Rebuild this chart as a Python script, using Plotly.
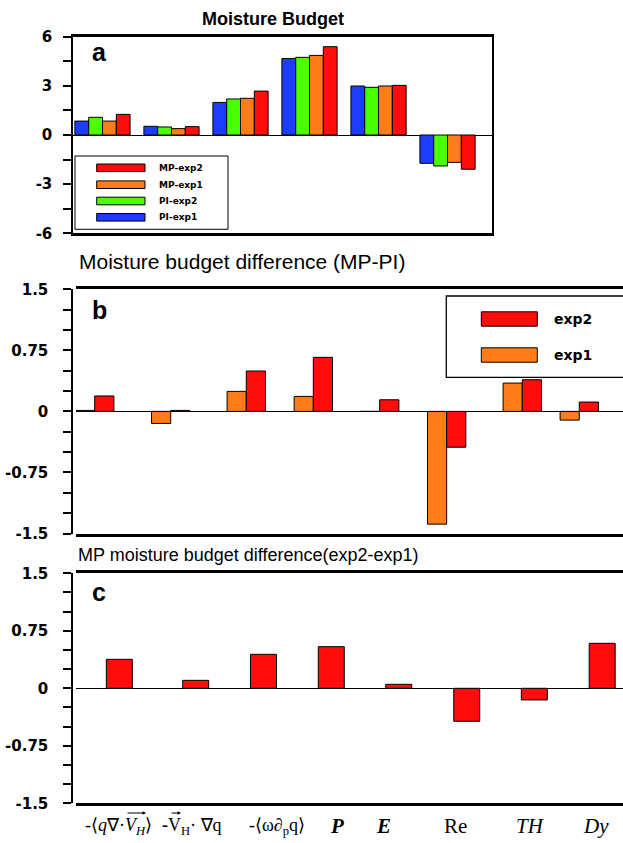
import plotly.graph_objects as go

# ---------------- data ----------------
# panel a: moisture budget terms (6 groups)
groups_a = [0, 1, 2, 3, 4, 5]
pi_exp1 = [0.85, 0.53, 1.99, 4.67, 2.99, -1.73]
pi_exp2 = [1.08, 0.49, 2.20, 4.74, 2.91, -1.89]
mp_exp1 = [0.85, 0.39, 2.24, 4.86, 2.99, -1.67]
mp_exp2 = [1.26, 0.51, 2.68, 5.39, 3.03, -2.09]

# panel b: MP-PI difference
xpos_b = [0.275, 1.393, 2.504, 3.490, 4.466, 5.451, 6.563, 7.401]
diff_exp1 = [0.012, -0.148, 0.246, 0.184, 0.0, -1.385, 0.348, -0.107]
diff_exp2 = [0.190, 0.012, 0.496, 0.664, 0.143, -0.440, 0.389, 0.115]

# panel c: MP exp2-exp1 difference
xpos_c = [0.637, 1.760, 2.757, 3.754, 4.747, 5.746, 6.740, 7.738]
mp_diff = [0.378, 0.104, 0.443, 0.543, 0.052, -0.430, -0.152, 0.587]
label_pos_c = [0.632, 1.706, 2.956, 3.838, 4.515, 5.574, 6.691, 7.647]
labels_c = [
    "-⟨<i>q</i>∇·<i>V</i><sub><i>H</i></sub>⟩",
    "<b>-</b>V<sub>H</sub>· ∇q",
    "-⟨ω∂<sub>p</sub>q⟩",
    "<b><i>P</i></b>",
    "<b><i>E</i></b>",
    "Re",
    "<i>TH</i>",
    "<i>Dy</i>",
]
label_sizes_c = [18, 18, 18, 21, 21, 21, 21, 21]

ticks_a = [-6, -3, 0, 3, 6]
ticktext_a = ["-6", "-3", "0", "3", "6"]
minor_a = [-4.5, -1.5, 1.5, 4.5]
ticks_bc = [-1.5, -0.75, 0, 0.75, 1.5]
ticktext_bc = ["-1.5", "-0.75", "0", "0.75", "1.5"]
minor_bc = [-1.25, -1.0, -0.5, -0.25, 0.25, 0.5, 1.0, 1.25]

BLUE = "rgb(30,60,255)"
GREEN = "rgb(75,255,0)"
ORANGE = "rgb(255,125,25)"
RED = "rgb(255,13,13)"

W, H = 623, 843
def px(x):
    return x / W
def py(y):
    return 1 - y / H

fig = go.Figure()
line = dict(color="black", width=1)

# panel a
for k, (vals, col, name) in enumerate([(pi_exp1, BLUE, "PI-exp1"), (pi_exp2, GREEN, "PI-exp2"),
                                        (mp_exp1, ORANGE, "MP-exp1"), (mp_exp2, RED, "MP-exp2")]):
    fig.add_trace(go.Bar(x=groups_a, y=vals, width=0.2, offset=-0.4 + 0.2 * k,
                         marker=dict(color=col, line=line), name=name,
                         xaxis="x", yaxis="y", showlegend=False))
# panel b
fig.add_trace(go.Bar(x=xpos_b, y=diff_exp1, width=0.282, offset=-0.282,
                     marker=dict(color=ORANGE, line=line), name="exp1",
                     xaxis="x2", yaxis="y2", showlegend=False))
fig.add_trace(go.Bar(x=xpos_b, y=diff_exp2, width=0.282, offset=0,
                     marker=dict(color=RED, line=line), name="exp2",
                     xaxis="x2", yaxis="y2", showlegend=False))
# panel c
fig.add_trace(go.Bar(x=xpos_c, y=mp_diff, width=0.382,
                     marker=dict(color=RED, line=line), name="exp2-exp1",
                     xaxis="x3", yaxis="y3", showlegend=False))

tickfont = dict(family="DejaVu Sans", size=15, color="black", weight="bold")

def yax(domain, tv, tt, mv, rng, mirror, standoff):
    return dict(domain=domain, range=rng, showline=True, linecolor="black", linewidth=2,
                mirror=mirror, ticks="outside", ticklen=8, tickwidth=1.5, tickcolor="black",
                tickmode="array", tickvals=tv, ticktext=tt, tickfont=tickfont,
                ticklabelstandoff=standoff, automargin=False,
                minor=dict(tickmode="array", tickvals=mv, ticks="outside", ticklen=8,
                           tickwidth=1.5, tickcolor="black", showgrid=False),
                showgrid=False, zeroline=True, zerolinecolor="black", zerolinewidth=1,
                fixedrange=True)

def xax(domain, rng, anchor):
    return dict(domain=domain, range=rng, anchor=anchor, showline=True, linecolor="black",
                linewidth=2.5, mirror=True, ticks="", showticklabels=False, automargin=False,
                showgrid=False, zeroline=False, fixedrange=True, tickangle=0)

fig.update_layout(
    width=W, height=H, margin=dict(l=0, r=0, t=0, b=0, autoexpand=False),
    paper_bgcolor="white", plot_bgcolor="white", barmode="overlay",
    xaxis=xax([px(73.3), px(491.7)], [-0.423, 5.64], "y"),
    yaxis=yax([py(233.3), py(36.7)], ticks_a, ticktext_a, minor_a, [-6, 6], True, 8),
    xaxis2=xax([px(76), 1.0], [0, 8.044], "y2"),
    yaxis2=yax([py(533.5), py(289.3)], ticks_bc, ticktext_bc, minor_bc, [-1.5, 1.5], False, 12),
    xaxis3=xax([px(76), 1.0], [0, 8.044], "y3"),
    yaxis3=yax([py(803.3), py(573.3)], ticks_bc, ticktext_bc, minor_bc, [-1.5, 1.5], False, 12),
)

ann = []
def add_text(text, x, y, size, family="Liberation Sans", weight="normal", xanchor="left"):
    ann.append(dict(text=text, x=px(x), y=py(y), xref="paper", yref="paper",
                    xanchor=xanchor, yanchor="middle", showarrow=False,
                    font=dict(family=family, size=size, color="black", weight=weight)))

add_text("Moisture Budget", 273, 19, 18, weight="bold", xanchor="center")
add_text("Moisture budget difference (MP-PI)", 77, 261, 21)
add_text("MP moisture budget difference(exp2-exp1)", 76, 555, 18)
add_text("a", 90, 52, 25, weight="bold")
add_text("b", 90, 310, 25, weight="bold")
add_text("c", 90, 592, 25, weight="bold")

# x category labels of panel c (placed on the x3 data scale)
for lab, pos, sz in zip(labels_c, label_pos_c, label_sizes_c):
    ann.append(dict(text=lab, x=pos, xref="x3", y=py(826), yref="paper",
                    xanchor="center", yanchor="middle", showarrow=False,
                    font=dict(family="Liberation Serif", size=sz, color="black")))

# vector arrows over V in the first two labels
for head, tail_len in [(146, 20), (181, 11)]:
    ann.append(dict(text="", x=px(head), y=py(813), xref="paper", yref="paper",
                    ax=-tail_len, ay=0, showarrow=True, arrowhead=2, arrowsize=0.7,
                    arrowwidth=1, arrowcolor="black"))

shapes = []
def rect(x0, y0, x1, y1, fill=None, width=1):
    shapes.append(dict(type="rect", xref="paper", yref="paper",
                       x0=px(x0), x1=px(x1), y0=py(y1), y1=py(y0),
                       line=dict(color="black", width=width),
                       fillcolor=fill if fill else "rgba(0,0,0,0)"))

# legend a
rect(75, 156, 228, 229.3, "white", 1)
for name, col, yc in [("MP-exp2", RED, 167.8), ("MP-exp1", ORANGE, 184.7),
                      ("PI-exp2", GREEN, 201.0), ("PI-exp1", BLUE, 217.3)]:
    rect(96.7, yc - 3.8, 145, yc + 3.8, col, 1)
    add_text(name, 157, yc, 9, family="DejaVu Sans", weight="bold")

# legend b
rect(446.3, 296, 630, 377.3, "white", 1.3)
for name, col, yc in [("exp2", RED, 319), ("exp1", ORANGE, 355)]:
    rect(481.3, yc - 7.2, 537.3, yc + 7.2, col, 1)
    add_text(name, 552, yc, 14, family="DejaVu Sans", weight="bold")

fig.update_layout(annotations=ann, shapes=shapes)

fig.write_html("out.html", config={"displayModeBar": False},
               post_script="document.body.style.margin='0';document.body.style.overflow='hidden';")
